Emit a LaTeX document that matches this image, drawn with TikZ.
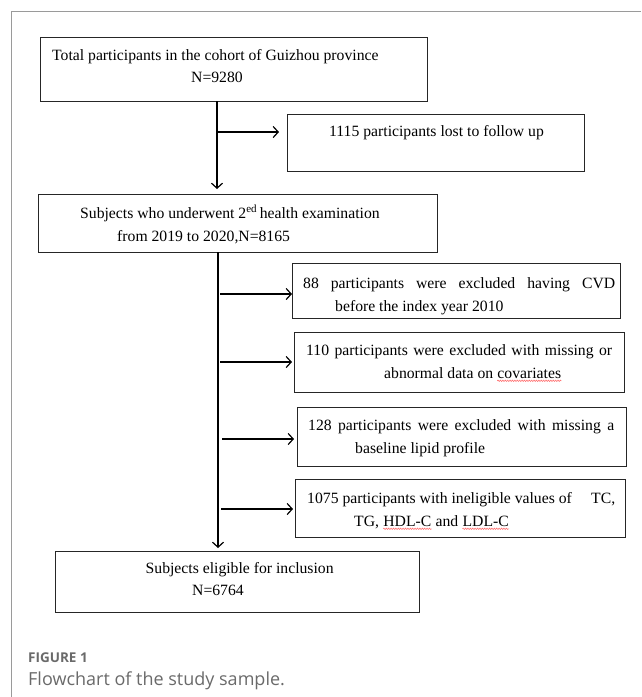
\documentclass[tikz,border=0pt]{standalone}
\usepackage{fontspec}
\setmainfont{Liberation Serif}
\newfontfamily\capfont{Open Sans}
\usetikzlibrary{arrows.meta,decorations.pathmorphing}
\definecolor{framegray}{HTML}{9A9A9A}
\definecolor{capgray}{HTML}{6A6A6A}
\tikzset{
  x=1pt, y=-1pt,
  box/.style={draw=black!85, line width=1.1pt, rectangle, anchor=north west, inner sep=0pt},
  txt/.style={anchor=base west, inner sep=0pt, font=\fontsize{15.7}{18}\selectfont},
  line/.style={draw=black, line width=1.2pt},
  arr/.style={line, -{Straight Barb[length=5pt,width=11pt,line width=1.2pt]}},
  wave/.style={draw=red!55, line width=0.6pt, decorate, decoration={snake, amplitude=0.7pt, segment length=2.4pt}},
}
\begin{document}
\begin{tikzpicture}
\useasboundingbox (0,0) rectangle (641,697);
% frame
\draw[framegray, line width=0.9pt] (11.5,697) -- (11.5,11) -- (641,11);

% boxes
\node[box, minimum width=387pt, minimum height=64pt] (b1) at (40,37) {};
\node[box, minimum width=297pt, minimum height=57pt] (lost) at (287,114) {};
\node[box, minimum width=399pt, minimum height=58pt] (b2) at (38,194) {};
\node[box, minimum width=328pt, minimum height=55pt] (e1) at (292,263) {};
\node[box, minimum width=330pt, minimum height=60pt] (e2) at (294,332) {};
\node[box, minimum width=329pt, minimum height=59pt] (e3) at (297,407) {};
\node[box, minimum width=330pt, minimum height=58pt] (e4) at (295,479) {};
\node[box, minimum width=364pt, minimum height=61pt] (b3) at (55,551) {};

% texts
\node[txt] (t1a) at (52,60) {Total participants in the cohort of Guizhou province};
\node[txt] (t1b) at (191,82) {N=9280};
\node[txt] (tl) at (329,136) {1115 participants lost to follow up};
\node[txt] (t2a) at (80,218) {Subjects who underwent 2\textsuperscript{ed}\,health examination};
\node[txt] (t2b) at (117,241) {from 2019 to 2020,N=8165};
\node[txt] (t3a) at (303,288) {\makebox[312pt][s]{88 participants were excluded having CVD}};
\node[txt] (t3b) at (335,311) {before the index year 2010};
\node[txt] (t4a) at (306,355) {\makebox[306pt][s]{110 participants were excluded with missing or}};
\node[txt] (t4b) at (384,378) {abnormal data on};
\node[txt, anchor=base west] (t4c) at ([xshift=3.9pt]t4b.base east) {covariates};
\node[txt] (t5a) at (308,430) {\makebox[306pt][s]{128 participants were excluded with missing a}};
\node[txt] (t5b) at (355,453) {baseline lipid profile};
\node[txt] (t6a) at (307,503) {\makebox[308pt][l]{1075 participants with ineligible values of\hfill TC,}};
\node[txt] (t6b) at (354,526) {TG,};
\node[txt, anchor=base west] (t6c) at ([xshift=3.9pt]t6b.base east) {HDL-C};
\node[txt, anchor=base west] (t6d) at ([xshift=3.9pt]t6c.base east) {and};
\node[txt, anchor=base west] (t6e) at ([xshift=3.9pt]t6d.base east) {LDL-C};
\draw[wave] ([yshift=-2.8pt]t4c.base west) -- ([yshift=-2.8pt]t4c.base east);
\draw[wave] ([yshift=-2.8pt]t6c.base west) -- ([yshift=-2.8pt]t6c.base east);
\draw[wave] ([yshift=-2.8pt]t6e.base west) -- ([yshift=-2.8pt]t6e.base east);
\node[txt] (t7a) at (145.5,573) {Subjects eligible for inclusion};
\node[txt] (t7b) at (192,595) {N=6764};

% connectors
\coordinate (a0) at (217,101);
\coordinate (a1) at (217,132);
\coordinate (a2) at (217,194);
\draw[line] (a0) -- (a1);
\draw[arr, shorten >=5pt] (a1) -- (a2);
\draw[arr, shorten >=8pt] (a1) -- (lost.west |- a1);

\coordinate (c0) at (218,252);
\coordinate (c1) at (218,294);
\coordinate (c2) at (218,362);
\coordinate (c3) at (218,439);
\coordinate (c4) at (218,509);
\coordinate (c5) at (218,551);
\draw[arr, shorten >=3pt] (c0) -- (c5);
\draw[arr, shorten <=2pt] (c1) -- (e1.west |- c1);
\draw[arr, shorten <=2pt, shorten >=2pt] (c2) -- (e2.west |- c2);
\draw[arr, shorten <=4pt, shorten >=3pt] (c3) -- (e3.west |- c3);
\draw[arr, shorten <=3pt, shorten >=2pt] (c4) -- (e4.west |- c4);

% caption
\node[anchor=base west, inner sep=0pt, text=capgray, font=\capfont\bfseries\fontsize{13.5}{15}\selectfont] (cap1) at (28,662.5) {FIGURE 1};
\node[anchor=base west, inner sep=0pt, text=capgray, font=\capfont\fontsize{18}{20}\selectfont] (cap2) at (28,685) {Flowchart of the study sample.};
\end{tikzpicture}
\end{document}
